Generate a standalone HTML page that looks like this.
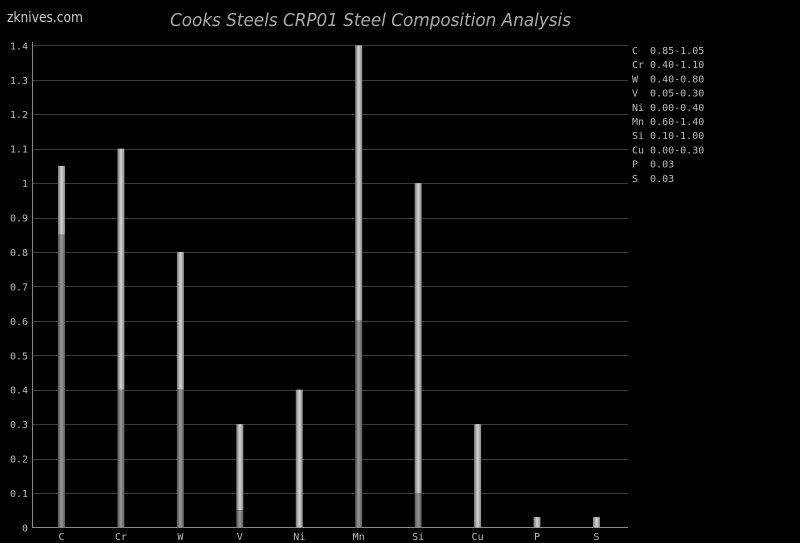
<!DOCTYPE html>
<html><head><meta charset="utf-8"><style>
html,body{margin:0;padding:0;background:#000;width:800px;height:543px;overflow:hidden}
svg{display:block}
.m{font-family:"DejaVu Sans Mono","Liberation Mono",monospace;font-size:10px;fill:#bbb}
#lg text{white-space:pre}
</style></head><body>
<svg width="800" height="543" xmlns="http://www.w3.org/2000/svg">
<defs>
<linearGradient id="lt" x1="0" x2="1" y1="0" y2="0">
<stop offset="0" stop-color="#777"/><stop offset="0.5" stop-color="#d4d4d4"/><stop offset="1" stop-color="#888"/></linearGradient>
<linearGradient id="dk" x1="0" x2="1" y1="0" y2="0">
<stop offset="0" stop-color="#555"/><stop offset="0.5" stop-color="#999"/><stop offset="1" stop-color="#5a5a5a"/></linearGradient>
</defs>
<text x="7" y="22" font-family="DejaVu Sans,Liberation Sans,sans-serif" font-size="14" fill="#ccc" textLength="76" lengthAdjust="spacingAndGlyphs">zknives.com</text>
<text x="170" y="26" font-family="DejaVu Sans,Liberation Sans,sans-serif" font-style="italic" font-size="18" fill="#aaa" textLength="401" lengthAdjust="spacingAndGlyphs">Cooks Steels CRP01 Steel Composition Analysis</text>
<g id="grid" stroke="#3a3a3a" stroke-width="1"></g>
<g id="yl" class="m"></g>
<line x1="32.5" y1="42" x2="32.5" y2="528" stroke="#888"/>
<line x1="32" y1="527.5" x2="628" y2="527.5" stroke="#888"/>
<g id="bars"></g>
<g id="xl" class="m"></g>
<g id="lg" class="m"></g>
</svg>
<script>
var ns="http://www.w3.org/2000/svg";
function Y(v){return 527.4-344.3*v;}
function el(p,t,a,tx){var e=document.createElementNS(ns,t);for(var k in a)e.setAttribute(k,a[k]);if(tx)e.textContent=tx;document.getElementById(p).appendChild(e);}
for(var i=1;i<=14;i++){var y=Math.round(Y(i/10))+0.5;el("grid","line",{x1:33,x2:628,y1:y,y2:y});}
for(var i=0;i<=14;i++){var y=Y(i/10);var s=i==0?"0":(i%10==0?String(i/10):(i/10).toFixed(1));el("yl","text",{x:28,y:y+4,"text-anchor":"end"},s);}
var d=[["C",.85,1.05,"0.85-1.05"],["Cr",.4,1.1,"0.40-1.10"],["W",.4,.8,"0.40-0.80"],["V",.05,.3,"0.05-0.30"],["Ni",0,.4,"0.00-0.40"],["Mn",.6,1.4,"0.60-1.40"],["Si",.1,1,"0.10-1.00"],["Cu",0,.3,"0.00-0.30"],["P",0,.03,"0.03"],["S",0,.03,"0.03"]];
d.forEach(function(r,i){var cx=61.5+59.44*i;
el("bars","rect",{x:cx-3.5,y:Y(r[2]),width:7,height:Y(r[1])-Y(r[2]),fill:"url(#lt)"});
if(r[1]>0)el("bars","rect",{x:cx-3.5,y:Y(r[1]),width:7,height:527.4-Y(r[1]),fill:"url(#dk)"});
el("xl","text",{x:cx,y:540,"text-anchor":"middle"},r[0]);
el("lg","text",{x:632,y:54+14.2*i},(r[0].length==1?r[0]+"  ":r[0]+" ")+r[3]);
});
</script>
</body></html>
